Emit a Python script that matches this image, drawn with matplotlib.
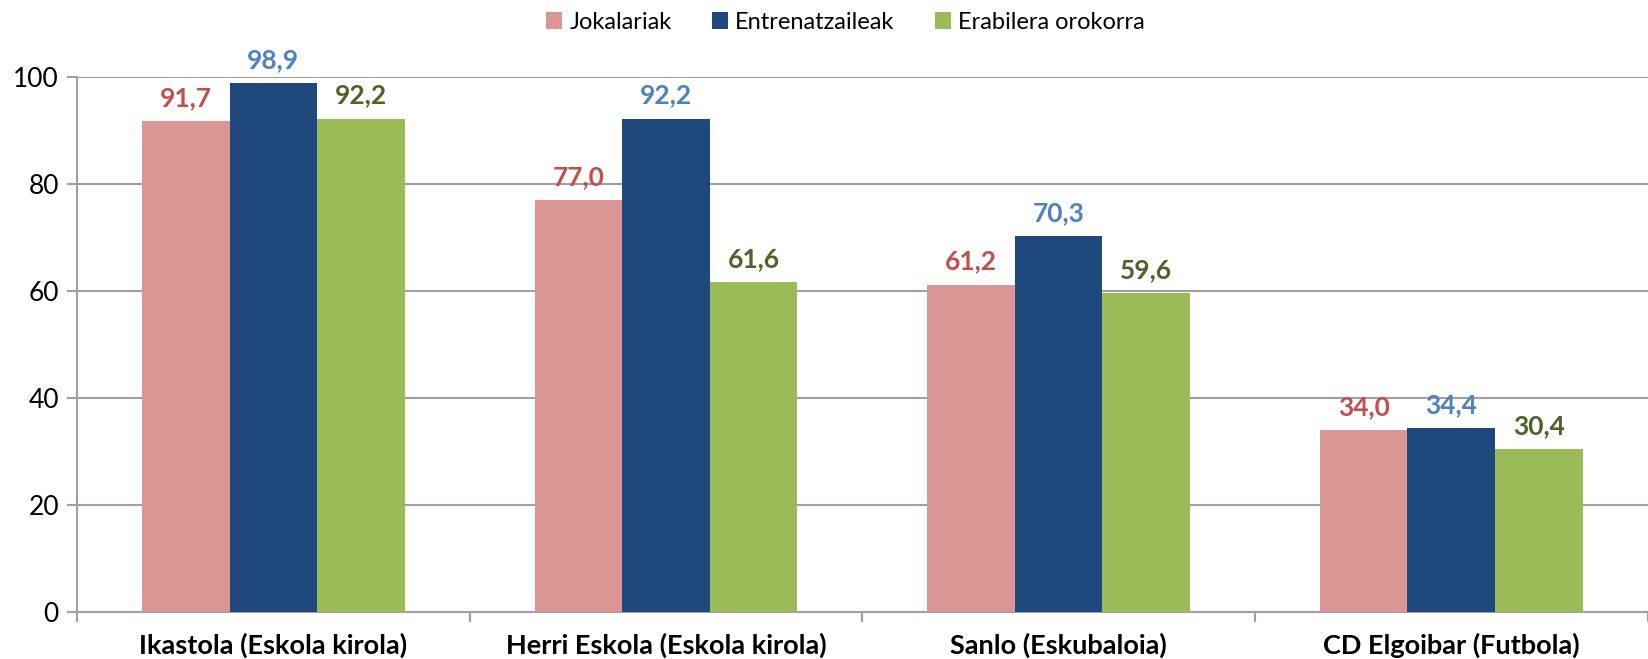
import matplotlib
matplotlib.use("Agg")
import matplotlib.pyplot as plt
import numpy as np

categories = ["Ikastola (Eskola kirola)", "Herri Eskola (Eskola kirola)",
              "Sanlo (Eskubaloia)", "CD Elgoibar (Futbola)"]
series_names = ["Jokalariak", "Entrenatzaileak", "Erabilera orokorra"]
jokalariak = [91.7, 77.0, 61.2, 34.0]
entrenatzaileak = [98.9, 92.2, 70.3, 34.4]
erabilera = [92.2, 61.6, 59.6, 30.4]
yticks = [0, 20, 40, 60, 80, 100]

bar_colors = ["#D99694", "#1F497D", "#9BBB59"]
label_colors = ["#C0504D", "#4F81BD", "#4F6228"]

plt.rcParams['font.family'] = ['Lato', 'DejaVu Sans']

fig = plt.figure(figsize=(16.48, 6.59), dpi=100)
ax = fig.add_axes([0.0467, 0.0713, 0.953, 0.812])

x = np.arange(len(categories))
bw = 0.223
data = [jokalariak, entrenatzaileak, erabilera]
for i, (vals, name) in enumerate(zip(data, series_names)):
    pos = x + (i - 1) * bw
    ax.bar(pos, vals, width=bw, color=bar_colors[i], label=name, zorder=3)
    for p, v in zip(pos, vals):
        ax.annotate(f"{v:.1f}".replace('.', ','), (p, v), xytext=(0, 8),
                    textcoords='offset points', ha='center', va='bottom',
                    fontsize=19, fontweight='bold', color=label_colors[i])

ax.set_xlim(-0.5, len(categories) - 0.5)
ax.set_ylim(0, 100)
ax.set_yticks(yticks)
ax.set_yticklabels([str(t) for t in yticks], fontsize=19)
ax.yaxis.grid(True, color='#A0A0A0', linewidth=1.5, zorder=0)
ax.set_axisbelow(True)

ax.set_xticks(x)
ax.set_xticklabels(categories, fontsize=19.5, fontweight='bold')
ax.tick_params(axis='x', which='major', length=0, pad=15)
ax.set_xticks(np.arange(-0.5, len(categories) + 0.5, 1), minor=True)
ax.tick_params(axis='x', which='minor', length=7, width=1.5, color='#A0A0A0')
ax.tick_params(axis='y', length=7, width=1.5, color='#A0A0A0', pad=6)

for s in ['top', 'right']:
    ax.spines[s].set_visible(False)
for s in ['left', 'bottom']:
    ax.spines[s].set_color('#A0A0A0')
    ax.spines[s].set_linewidth(1.5)

fig.legend(loc='center', bbox_to_anchor=(0.513, 0.966), ncol=3, frameon=False,
           fontsize=17, handlelength=0.7, handleheight=0.7, handletextpad=0.3,
           columnspacing=1.7)

fig.savefig("out.png", dpi=100)
